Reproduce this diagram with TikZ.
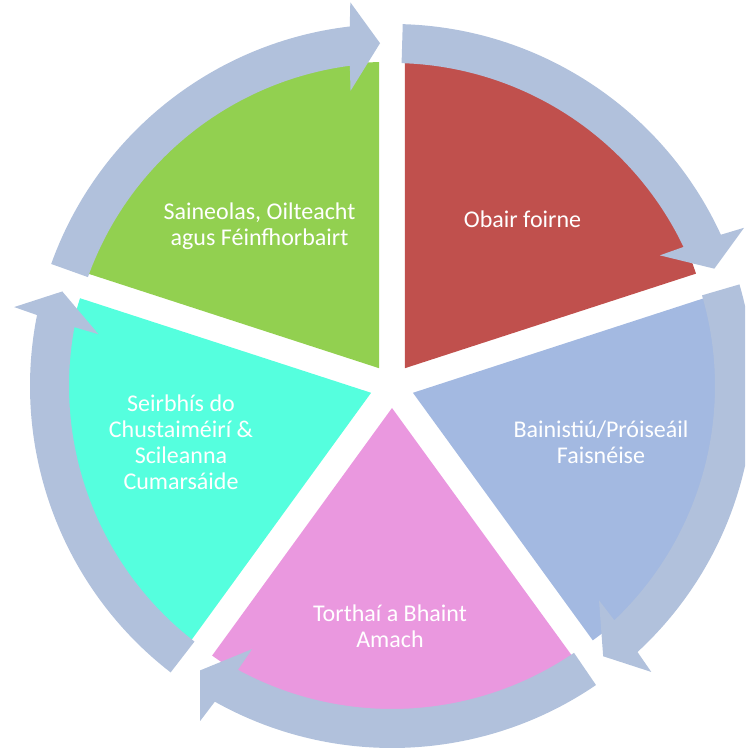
\documentclass[tikz,border=0pt]{standalone}
\usepackage{fontspec}
\setmainfont{Carlito}
\usetikzlibrary{calc}
\definecolor{segred}{HTML}{C0504D}
\definecolor{seggreen}{HTML}{92D050}
\definecolor{segcyan}{HTML}{55FFDE}
\definecolor{segblue}{HTML}{A3B9E1}
\definecolor{segpink}{HTML}{EA98DF}
\definecolor{arrowblue}{HTML}{B1C1DC}
\begin{document}
\begin{tikzpicture}[x=1pt,y=1pt,
  seglabel/.style={text=white,font=\fontsize{24}{26}\selectfont,inner sep=0pt,anchor=base},
  cyclearrow/.style={fill=arrowblue}]
\useasboundingbox (0,0) rectangle (745,751);
\clip (0,0) rectangle (745,751);
\coordinate (C) at (392,365);
% segments
\foreach \a/\b/\col in {90/18/segred, 18/-54/segblue, -54/-126/segpink, -126/-198/segcyan, 162/90/seggreen}{
  \pgfmathsetmacro\m{(\a+\b)/2}
  \fill[\col] ($(C)+(\m:22)$) -- ++(\a:306) arc[start angle=\a, end angle=\b, radius=306] -- cycle;
}
% circular arrows
\foreach \a/\b in {90/18, 18/-54, -54/-126, -126/-198, 162/90}{
  \pgfmathsetmacro\s{\a-1.7}
  \pgfmathsetmacro\eo{\b+6.7}
  \pgfmathsetmacro\ei{\b+7.5}
  \pgfmathsetmacro\wo{\b+6.2}
  \pgfmathsetmacro\wi{\b+8}
  \pgfmathsetmacro\t{\b+2}
  \fill[cyclearrow] ($(C)+(\s:362)$) arc[start angle=\s, end angle=\eo, radius=362]
    -- ($(C)+(\wo:386)$) -- ($(C)+(\t:343)$) -- ($(C)+(\wi:298)$)
    -- ($(C)+(\ei:323)$) arc[start angle=\ei, end angle=\s, radius=323] -- cycle;
}
% labels
\node[seglabel] (lred) at (522.5,523) {Obair foirne};
\node[seglabel] (lgreen) at (259.5,531) {\begin{tabular}[t]{@{}c@{}}Saineolas, Oilteacht\\agus Féinfhorbairt\end{tabular}};
\node[seglabel] (lblue) at (601,313) {\begin{tabular}[t]{@{}c@{}}Bainistiú/Próiseáil\\Faisnéise\end{tabular}};
\node[seglabel] (lpink) at (390,129) {\begin{tabular}[t]{@{}c@{}}Torthaí a Bhaint\\Amach\end{tabular}};
\node[seglabel] (lcyan) at (181,339) {\begin{tabular}[t]{@{}c@{}}Seirbhís do\\Chustaiméirí \&\\Scileanna\\Cumarsáide\end{tabular}};
\end{tikzpicture}
\end{document}
